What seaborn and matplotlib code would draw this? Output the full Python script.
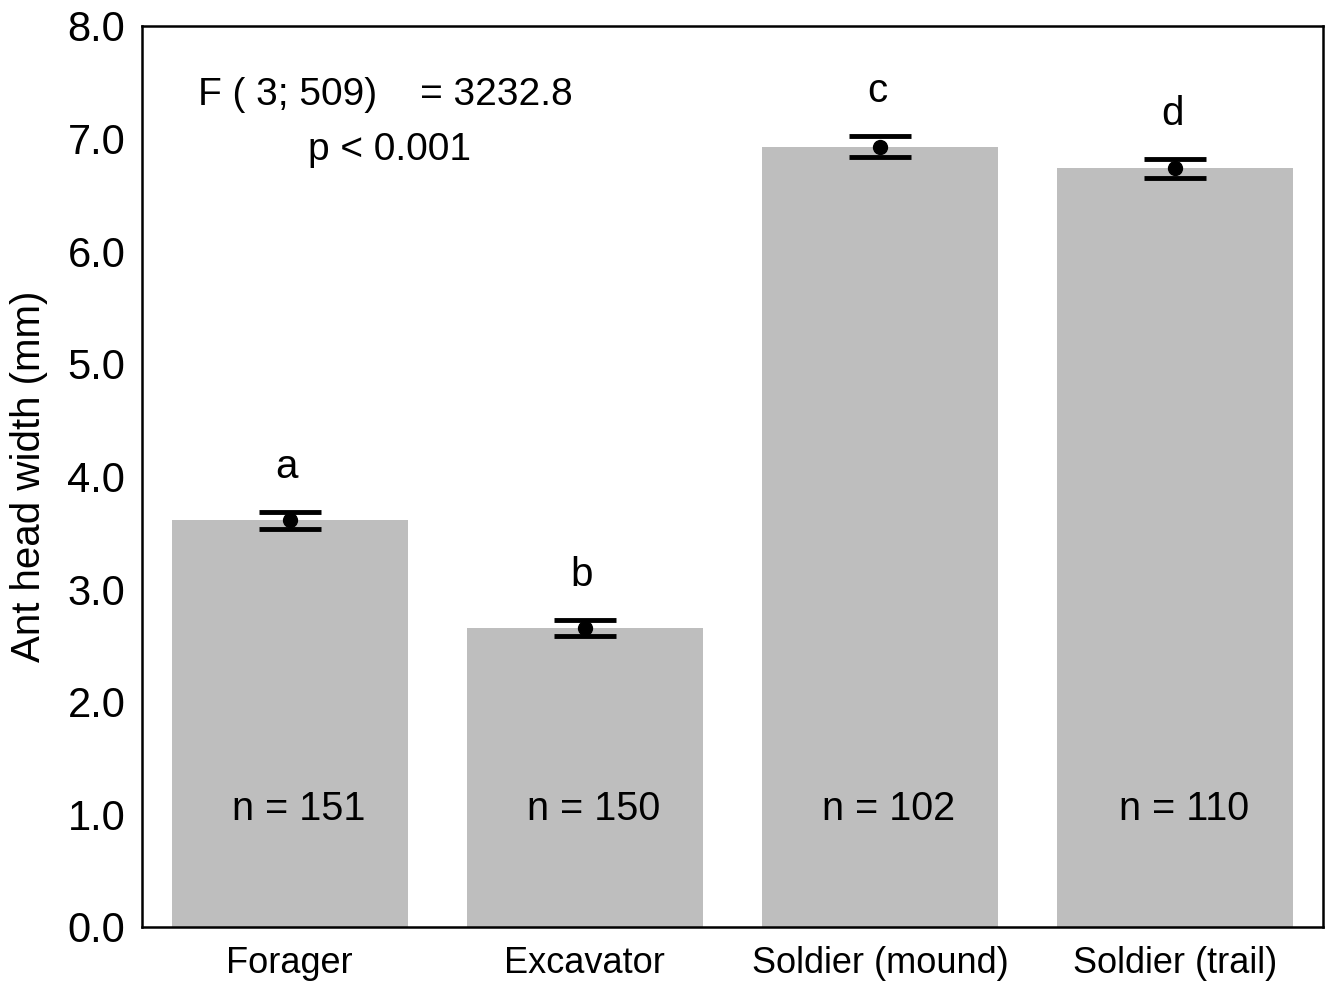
import matplotlib
matplotlib.use("Agg")
import matplotlib.pyplot as plt
import seaborn as sns
import pandas as pd
import numpy as np

categories = ["Forager", "Excavator", "Soldier (mound)", "Soldier (trail)"]
means = [3.61, 2.655, 6.93, 6.735]
errors = [0.075, 0.072, 0.09, 0.085]
letters = ["a", "b", "c", "d"]
n_labels = ["n = 151", "n = 150", "n = 102", "n = 110"]
yticks = [0.0, 1.0, 2.0, 3.0, 4.0, 5.0, 6.0, 7.0, 8.0]

sns.set_style("white")
plt.rcParams['font.family'] = ['Liberation Sans', 'DejaVu Sans']
plt.rcParams['text.color'] = 'black'
plt.rcParams['axes.labelcolor'] = 'black'
plt.rcParams['xtick.color'] = 'black'
plt.rcParams['ytick.color'] = 'black'

df = pd.DataFrame({"cat": categories, "val": means})

fig = plt.figure(figsize=(13.27, 9.85), dpi=100)
ax = fig.add_axes([142/1327, 1-927/985, (1323-142)/1327, (927-26)/985])

sns.barplot(data=df, x="cat", y="val", order=categories, color="#bebebe",
            saturation=1, width=0.8, errorbar=None, ax=ax, edgecolor="none")
for p in ax.patches:
    p.set_facecolor("#bebebe")

x = np.arange(len(categories))
ax.errorbar(x, means, yerr=errors, fmt="o", color="black", ecolor="black",
            markersize=10, capsize=22, capthick=3.5, elinewidth=0, zorder=5)

for xi, m, e, l in zip(x, means, errors, letters):
    ax.text(xi - 0.01, m + e + 0.4, l, ha="center", va="center", fontsize=29)
for xi, nl in zip(x, n_labels):
    ax.text(xi + 0.03, 1.05, nl, ha="center", va="center", fontsize=28.5)

ax.text(198/1327, 1-95/985, "F ( 3; 509)    = 3232.8", transform=fig.transFigure,
        ha="left", va="center", fontsize=28)
ax.text(308/1327, 1-150/985, "p < 0.001", transform=fig.transFigure,
        ha="left", va="center", fontsize=28)

ax.set_xlim(-0.5, 3.5)
ax.set_ylim(0, 8)
ax.set_yticks(yticks)
ax.set_yticklabels([f"{t:.1f}" for t in yticks], fontsize=30)
ax.set_xticks(x)
ax.set_xticklabels(categories, fontsize=26)
ax.set_xlabel("")
ax.set_ylabel("Ant head width (mm)", fontsize=29, labelpad=14)
ax.tick_params(axis="y", direction="in", length=8, width=1.5, pad=12)
ax.tick_params(axis="x", direction="in", length=8, width=1.5, pad=14)
for s in ax.spines.values():
    s.set_visible(True)
    s.set_color("black")
    s.set_linewidth(1.8)

fig.savefig("out.png", dpi=100)
